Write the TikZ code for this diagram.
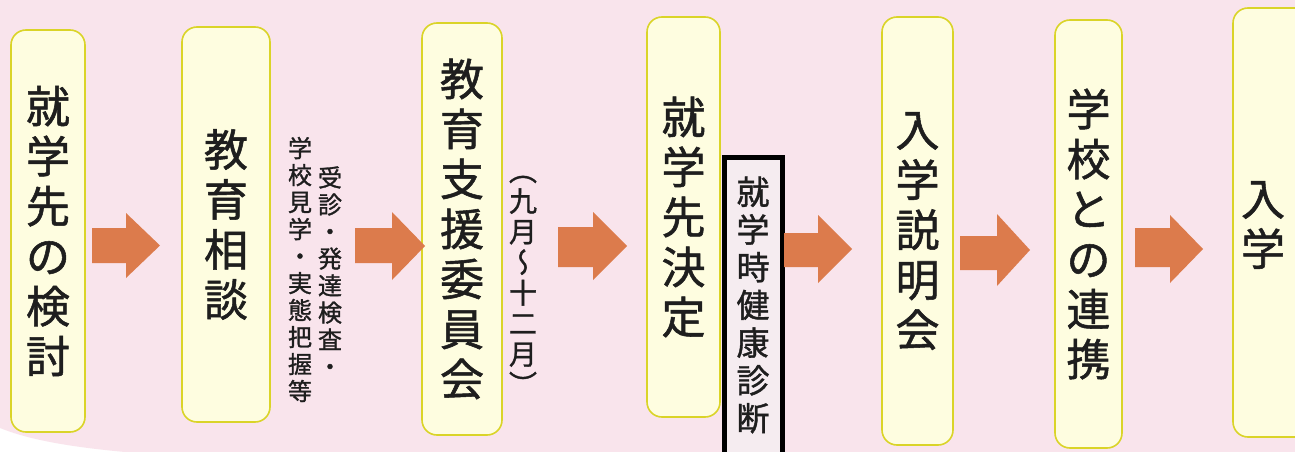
\documentclass[tikz,border=0pt]{standalone}
\usepackage{fontspec}
\newfontfamily\cjk[FakeBold=1.2]{Noto Sans CJK JP}
\newfontfamily\cjkv[RawFeature=+vert,FakeBold=1.2]{Noto Sans CJK JP}
\definecolor{bgpink}{RGB}{249,228,236}
\definecolor{boxfill}{RGB}{254,253,224}
\definecolor{boxline}{RGB}{218,212,40}
\definecolor{arrowc}{RGB}{220,123,76}
\definecolor{textc}{RGB}{30,30,30}
\definecolor{kfill}{RGB}{245,236,240}
\tikzset{
  stepbox/.style={draw=boxline, line width=1.6pt, fill=boxfill, rounded corners=15pt,
    inner sep=0pt, align=center, text=textc,
    font=\cjk\fontsize{44}{50}\selectfont},
  kbox/.style={draw=black, line width=5pt, fill=kfill, inner sep=0pt, align=center,
    text=textc, font=\cjk\fontsize{33}{37.7}\selectfont},
  smalltxt/.style={inner sep=0pt, align=center, text=textc, font=\cjk\fontsize{24}{27}\selectfont},
  parentxt/.style={inner sep=0pt, align=center, text=textc, font=\cjkv\fontsize{28}{30.6}\selectfont},
  bigtxt/.style={inner sep=0pt, align=center, text=textc, font=\cjk\fontsize{44}{50}\selectfont},
  barrow/.style={fill=arrowc}
}
% block arrow: x0, xhead, x1, shaft top, shaft bottom, head top, head bottom
\newcommand{\blockarrow}[7]{%
  \fill[barrow] (#1,#4) -- (#2,#4) -- (#2,#6) -- (#3,{(#6+#7)/2}) -- (#2,#7) -- (#2,#5) -- (#1,#5) -- cycle;}
\begin{document}
\begin{tikzpicture}[x=1pt,y=-1pt]
\clip (0,0) rectangle (1295,452);
\fill[white] (0,0) rectangle (1295,452);
\fill[bgpink] (0,0) -- (1295,0) -- (1295,452) -- (125,452) .. controls (60,446) and (25,438) .. (0,428) -- cycle;

% main steps
\node[stepbox, minimum width=74pt, minimum height=402pt] (b1) at (48,231) {就\\学\\先\\の\\検\\討};
\node[stepbox, minimum width=88pt, minimum height=395pt] (b2) at (226,224.5) {教\\育\\相\\談};
\node[stepbox, minimum width=80pt, minimum height=412pt] (b3) at (462,229) {教\\育\\支\\援\\委\\員\\会};
\node[stepbox, minimum width=73pt, minimum height=400pt] (b4) at (683.5,217) {就\\学\\先\\決\\定};
\node[stepbox, minimum width=71pt, minimum height=428pt] (b5) at (917.5,231) {入\\学\\説\\明\\会};
\node[stepbox, minimum width=67pt, minimum height=428pt] (b6) at (1088.5,234) {学\\校\\と\\の\\連\\携};
\node[stepbox, minimum width=100pt, minimum height=429pt] (b7) at (1283,222.5) {};
\node[bigtxt] (t7) at (1263,225) {入\\学};

% annotations
\node[smalltxt] (n1) at (330,271) {受\\診\\・\\発\\達\\検\\査\\・};
\node[smalltxt] (n2) at (300,269.5) {学\\校\\見\\学\\・\\実\\態\\把\\握\\等};
\node[parentxt] (n3) at (523,285.5) {（\\九\\月\\～\\十\\二\\月\\）};
\node[kbox, minimum width=58pt, minimum height=320pt] (k) at (753,317) {};
\node[inner sep=0pt, align=center, text=textc, font=\cjk\fontsize{33}{37.7}\selectfont] (kt) at (753,305) {就\\学\\時\\健\\康\\診\\断};

% arrows
\blockarrow{92}{126}{160}{228}{263}{213}{278}
\blockarrow{355}{392}{425}{228}{263}{212}{280}
\blockarrow{558}{593}{627}{227}{267}{212}{280}
\blockarrow{784}{818}{852}{233}{267}{215}{283}
\blockarrow{960}{997}{1030}{236}{270}{214}{286}
\blockarrow{1135}{1170}{1203}{228}{267}{215}{283}
\end{tikzpicture}
\end{document}
